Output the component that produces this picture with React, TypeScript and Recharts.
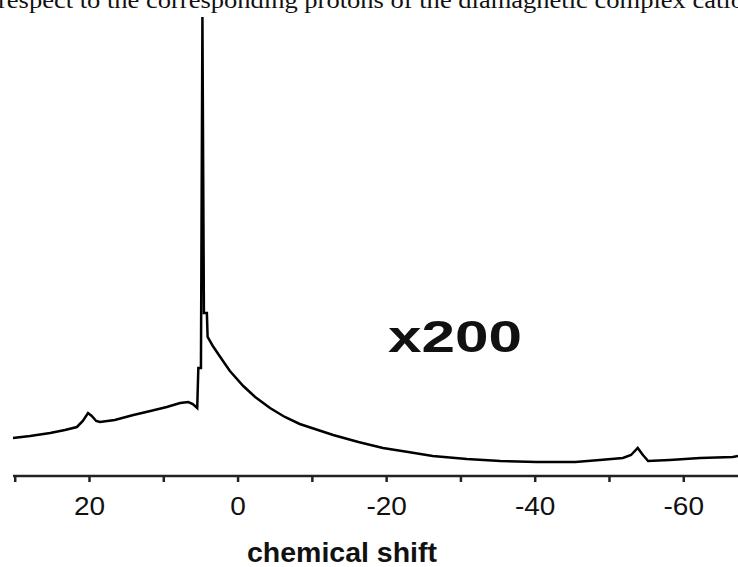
import { LineChart, Line, XAxis, YAxis } from "recharts";

// chemical shift (ppm), left to right
const shifts = [
  30.3, 28.0, 25.3, 23.3, 21.7, 20.9, 20.2, 19.7, 19.1, 18.6, 16.6, 14.1, 11.8, 9.6, 7.8, 6.7, 6.1, 5.5,
  5.35, 5.0, 4.8, 4.6, 4.2, 4.1, 3.4, 2.4, 1.1, -0.7, -2.3, -4.3, -6.3, -8.3, -12.8, -16.2, -19.5, -22.9,
  -26.2, -30.8, -35.3, -40.2, -42, -45.4, -48.7, -51.8, -52.9, -53.8, -54.5, -55.2, -58.1, -62.2, -66.6, -67.3,
];
// intensity (arbitrary units)
const intensity = [
  38, 40, 43, 46, 49, 55, 63, 60, 55, 54, 56, 61, 65, 69, 73, 74, 72, 68,
  108, 108, 459, 163, 163, 139, 130, 119, 105, 90, 79, 68, 59, 52, 41, 34, 28, 24,
  20, 17, 15, 14, 14, 14, 16, 18, 21, 28, 21, 15, 16, 18, 19, 20,
];
const tickValues = [30, 20, 10, 0, -10, -20, -30, -40, -50, -60];
const labelledTicks = [20, 0, -20, -40, -60];

const data = shifts.map((s, i) => ({ shift: s, value: intensity[i] }));

const W = 738;
const H = 567;

function Tick({ x, y, payload }: any) {
  const v = payload.value;
  if (!labelledTicks.includes(v)) return null;
  return (
    <g transform={`translate(${x},${y})`}>
      <text
        transform="scale(1.12,1)"
        textAnchor="middle"
        dy={31}
        fontSize={25}
        fontFamily="Arial, 'Liberation Sans', sans-serif"
        fill="#111"
      >
        {v}
      </text>
    </g>
  );
}

export default function App() {
  return (
    <div style={{ position: "absolute", left: 0, top: 0, width: W, height: H, background: "#fff", overflow: "hidden" }}>
      <LineChart width={W} height={H} data={data} margin={{ top: 17, right: 0, left: 13, bottom: 0 }}>
        <XAxis
          dataKey="shift"
          type="number"
          domain={[-67.3, 30.3]}
          reversed
          ticks={tickValues}
          interval={0}
          height={91}
          tick={<Tick />}
          tickSize={6}
          axisLine={{ stroke: "#222", strokeWidth: 2.5 }}
          tickLine={{ stroke: "#222", strokeWidth: 2.5 }}
        />
        <YAxis hide domain={[0, 459]} allowDataOverflow />
        <Line
          dataKey="value"
          type="linear"
          stroke="#000"
          strokeWidth={2.5}
          dot={false}
          isAnimationActive={false}
        />
      </LineChart>
      <svg width={W} height={H} style={{ position: "absolute", left: 0, top: 0, pointerEvents: "none" }}>
        <text
          x={-2}
          y={7.5}
          fontSize={24}
          fontFamily="'Times New Roman', 'Liberation Serif', serif"
          fill="#111"
          textLength={746}
          lengthAdjust="spacingAndGlyphs"
        >
          respect to the corresponding protons of the diamagnetic complex catio
        </text>
        <text
          x={388}
          y={352}
          fontSize={45}
          fontWeight="bold"
          fontFamily="Arial, 'Liberation Sans', sans-serif"
          fill="#111"
          textLength={134}
          lengthAdjust="spacingAndGlyphs"
        >
          x200
        </text>
        <text
          x={247}
          y={562}
          fontSize={27}
          fontWeight="bold"
          fontFamily="Arial, 'Liberation Sans', sans-serif"
          fill="#111"
          textLength={190}
          lengthAdjust="spacingAndGlyphs"
        >
          chemical shift
        </text>
      </svg>
    </div>
  );
}
